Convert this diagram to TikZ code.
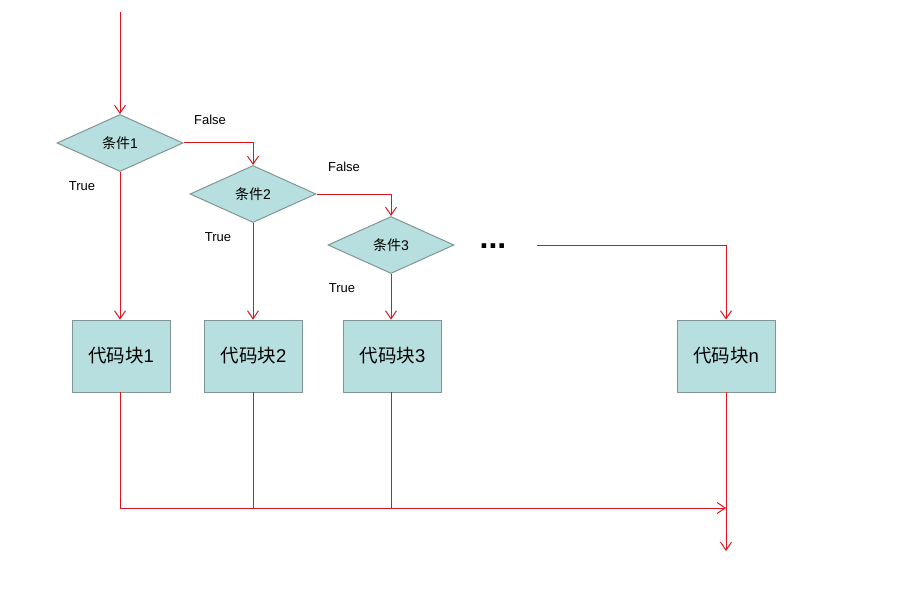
\documentclass[tikz,border=0pt]{standalone}
\usepackage{fontspec}
\setmainfont{Liberation Sans}
\newfontfamily\cjk{Noto Sans CJK SC}
\usetikzlibrary{shapes.geometric,arrows.meta}
\definecolor{boxfill}{RGB}{183,223,223}
\definecolor{boxline}{RGB}{128,150,150}
\definecolor{flowred}{RGB}{222,20,30}
\begin{document}
\begin{tikzpicture}[x=1pt,y=-1pt,
    cond/.style={diamond,draw=boxline,fill=boxfill,line width=1pt,
      minimum width=126pt,minimum height=57pt,aspect=2.2,inner sep=0pt,
      font=\fontsize{14}{16}\selectfont},
    block/.style={rectangle,draw=boxline,fill=boxfill,line width=0.8pt,
      minimum width=98pt,minimum height=72pt,
      font=\fontsize{18.5}{20}\selectfont},
    lbl/.style={font=\fontsize{13}{15}\selectfont},
    flow/.style={draw=flowred,line width=1pt},
    arr/.style={flow,-{Straight Barb[length=8pt,width=11pt]}}]
  \useasboundingbox (0,0) rectangle (902,599);
  % conditions
  \node[cond] (c1) at (120,143) {{\cjk 条件}1};
  \node[cond] (c2) at (253,194) {{\cjk 条件}2};
  \node[cond] (c3) at (391,245) {{\cjk 条件}3};
  \node[font=\fontsize{32}{34}\selectfont\bfseries,anchor=base] (dots) at (493,248) {...};
  % code blocks
  \node[block] (b1) at (121,356) {{\cjk 代码块}1};
  \node[block] (b2) at (253.5,356) {{\cjk 代码块}2};
  \node[block] (b3) at (392.5,356) {{\cjk 代码块}3};
  \node[block] (bn) at (726,356) {{\cjk 代码块}n};
  % labels
  \node[lbl] (f1) at (210,120) {False};
  \node[lbl] (f2) at (344,167) {False};
  \node[lbl] (t1) at (82,186) {True};
  \node[lbl] (t2) at (218,237) {True};
  \node[lbl] (t3) at (342,288) {True};
  \coordinate (start) at (120,12);
  \coordinate (dotsend) at (537,245);
  \coordinate (join) at (726,508);
  \coordinate (exit) at (726,551);
  % connectors
  \draw[arr] (start) -- (c1.north);
  \draw[arr] (c1.east) -| (c2.north);
  \draw[arr] (c2.east) -| (c3.north);
  \draw[arr] (dotsend) -| (bn.north);
  \draw[arr] (c1.south) -- (c1.south |- b1.north);
  \draw[arr] (c2.south) -- (c2.south |- b2.north);
  \draw[arr] (c3.south) -- (c3.south |- b3.north);
  \draw[arr] (c1.south |- b1.south) |- (join);
  \draw[flow] (c2.south |- b2.south) -- (c2.south |- join);
  \draw[flow] (c3.south |- b3.south) -- (c3.south |- join);
  \draw[arr] (bn.south) -- (exit);
\end{tikzpicture}
\end{document}
